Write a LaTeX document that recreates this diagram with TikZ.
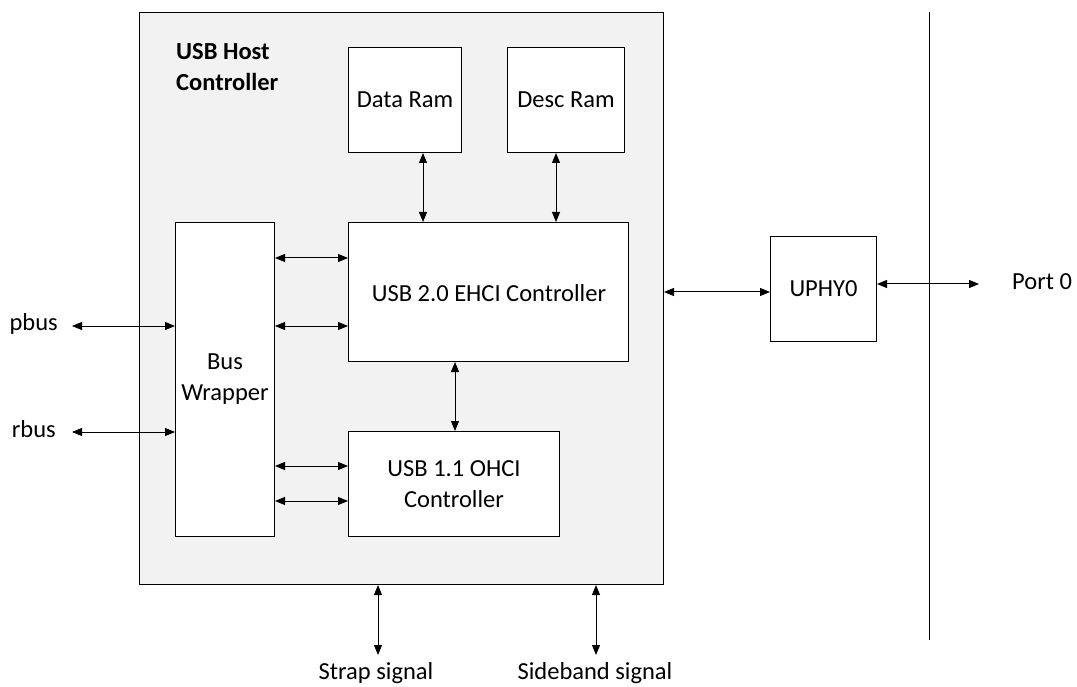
\documentclass[tikz,border=0pt]{standalone}
\usepackage{fontspec}
\setmainfont{Carlito}
\usetikzlibrary{arrows.meta}
\begin{document}
\begin{tikzpicture}[x=1pt,y=-1pt,
  txt/.style={font=\fontsize{24.5}{31}\selectfont, align=center},
  box/.style={draw, line width=1pt, fill=white, anchor=north west, inner sep=0pt, txt},
  conn/.style={line width=1pt, {Triangle[length=10pt,width=8pt]}-{Triangle[length=10pt,width=8pt]}}]
\useasboundingbox (0,0) rectangle (1077,687);
% outer
\node[draw, line width=1pt, fill=black!5, anchor=north west, minimum width=524pt, minimum height=572pt, inner sep=0pt] (hc) at (139,12) {};
\node[anchor=north west, align=left, font=\fontsize{24.5}{31}\selectfont\bfseries, inner sep=0pt] (title) at (176,43) {USB Host\\Controller};
% boxes
\node[box, minimum width=113pt, minimum height=105pt] (dram) at (348,47) {Data Ram};
\node[box, minimum width=117pt, minimum height=105pt] (desc) at (507,47) {Desc Ram};
\node[box, minimum width=280pt, minimum height=139pt] (ehci) at (348,222) {};
\node[txt] (ehcit) at (489,293) {USB 2.0 EHCI Controller};
\node[box, minimum width=99pt, minimum height=314pt] (bw) at (175,222) {Bus\\Wrapper};
\node[box, minimum width=211pt, minimum height=105pt] (ohci) at (348,431) {USB 1.1 OHCI\\Controller};
\node[box, minimum width=106pt, minimum height=105pt] (uphy) at (770,236) {UPHY0};
% labels
\node[txt, anchor=east, inner sep=0pt] (pbus) at (58,324) {pbus};
\node[txt, anchor=east, inner sep=0pt] (rbus) at (56,429) {rbus};
\node[txt, anchor=west, inner sep=0pt] (port) at (1012,282) {Port 0};
\node[txt, inner sep=0pt] (strap) at (376,673) {Strap signal};
\node[txt, inner sep=0pt] (side) at (595,673) {Sideband signal};
% coordinates
\coordinate (pbusE) at (72,326);
\coordinate (rbusE) at (72,432);
\coordinate (portW) at (979,284);
\coordinate (strapN) at (378,655);
\coordinate (sideN) at (596,655);
\coordinate (vtop) at (929,12);
\coordinate (vbot) at (929,640);
% connectors
\draw[conn] (dram.south -| 423,0) -- (ehci.north -| 423,0);
\draw[conn] (desc.south -| 556,0) -- (ehci.north -| 556,0);
\draw[conn] (ehci.south -| 455,0) -- (ohci.north -| 455,0);
\draw[conn] (bw.east |- 0,258) -- (ehci.west |- 0,258);
\draw[conn] (bw.east |- 0,326) -- (ehci.west |- 0,326);
\draw[conn] (bw.east |- 0,466) -- (ohci.west |- 0,466);
\draw[conn] (bw.east |- 0,501) -- (ohci.west |- 0,501);
\draw[conn] (pbusE) -- (bw.west |- pbusE);
\draw[conn] (rbusE) -- (bw.west |- rbusE);
\draw[conn] (hc.east |- 0,292) -- (uphy.west |- 0,292);
\draw[conn] (uphy.east |- portW) -- (portW);
\draw[conn] (hc.south -| strapN) -- (strapN);
\draw[conn] (hc.south -| sideN) -- (sideN);
\draw[line width=1pt] (vtop) -- (vbot);
\end{tikzpicture}
\end{document}
